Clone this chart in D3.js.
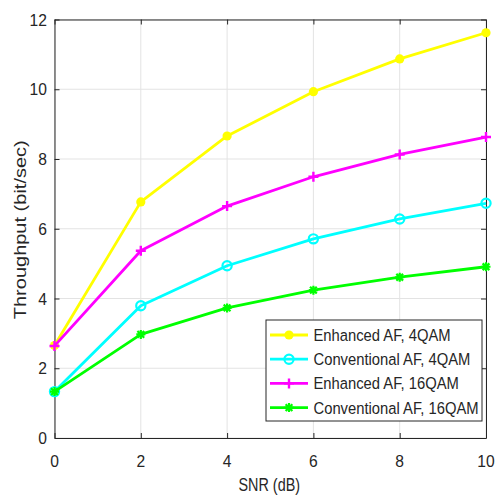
<!DOCTYPE html>
<html>
<head>
<meta charset="utf-8">
<script src="https://cdn.jsdelivr.net/npm/d3@7"></script>
<style>
  html, body { margin: 0; padding: 0; background: #fff; }
  svg { display: block; }
  text { font-family: "Liberation Sans", Arial, Helvetica, sans-serif; fill: #262626; }
</style>
</head>
<body>
<svg id="chart" width="495" height="495"></svg>
<script>
// SNR sweep (dB) and throughput (bit/sec) per scheme
const snr = [0, 2, 4, 6, 8, 10];
const enhanced4QAM     = [2.65, 6.77, 8.66, 9.93, 10.87, 11.62];
const conventional4QAM = [1.33, 3.79, 4.94, 5.71, 6.28, 6.73];
const enhanced16QAM    = [2.64, 5.37, 6.65, 7.49, 8.13, 8.63];
const conventional16QAM = [1.33, 2.97, 3.73, 4.24, 4.61, 4.91];

const seriesNames = ["Enhanced AF, 4QAM", "Conventional AF, 4QAM", "Enhanced AF, 16QAM", "Conventional AF, 16QAM"];
const seriesColors = ["#ffff00", "#00ffff", "#ff00ff", "#00ff00"];
const seriesMarkers = ["dot", "circle", "plus", "star"];
const xTicks = [0, 2, 4, 6, 8, 10];
const yTicks = [0, 2, 4, 6, 8, 10, 12];

const series = [enhanced4QAM, conventional4QAM, enhanced16QAM, conventional16QAM].map((vals, i) => ({
  name: seriesNames[i], color: seriesColors[i], marker: seriesMarkers[i],
  points: vals.map((v, j) => ({ x: snr[j], y: v }))
}));

const svg = d3.select("#chart");
const L = 54.5, R = 486, T = 19.5, B = 438;
const x = d3.scaleLinear().domain([0, 10]).range([L, R]);
const y = d3.scaleLinear().domain([0, 12]).range([B, T]);
const axisColor = "#262626";

// grid
const grid = svg.append("g");
grid.selectAll("line.gx").data(xTicks).join("line")
  .attr("x1", d => x(d)).attr("x2", d => x(d)).attr("y1", T).attr("y2", B)
  .attr("stroke", "#e3e3e3").attr("stroke-width", 1);
grid.selectAll("line.gy").data(yTicks).join("line")
  .attr("x1", L).attr("x2", R).attr("y1", d => y(d)).attr("y2", d => y(d))
  .attr("stroke", "#e3e3e3").attr("stroke-width", 1);

// axes with inward ticks on all four sides
const tickLen = 5;
const xAxisB = d3.axisBottom(x).tickValues(xTicks).tickSizeInner(-tickLen).tickSizeOuter(0).tickFormat("");
const xAxisT = d3.axisTop(x).tickValues(xTicks).tickSizeInner(-tickLen).tickSizeOuter(0).tickFormat("");
const yAxisL = d3.axisLeft(y).tickValues(yTicks).tickSizeInner(-tickLen).tickSizeOuter(0).tickFormat("");
const yAxisR = d3.axisRight(y).tickValues(yTicks).tickSizeInner(-tickLen).tickSizeOuter(0).tickFormat("");
[[xAxisB, `translate(0,${B})`], [xAxisT, `translate(0,${T})`],
 [yAxisL, `translate(${L},0)`], [yAxisR, `translate(${R},0)`]].forEach(([ax, tr]) => {
  const g = svg.append("g").attr("transform", tr).call(ax);
  g.selectAll("path,line").attr("stroke", axisColor).attr("stroke-width", 1);
});

// tick labels (slightly condensed)
const tickFont = 17, tickSX = 0.92;
svg.append("g").selectAll("text").data(xTicks).join("text")
  .attr("transform", d => `translate(${x(d)},466.5) scale(${tickSX},1)`)
  .attr("text-anchor", "middle").attr("font-size", tickFont).text(d => d);
svg.append("g").selectAll("text").data(yTicks).join("text")
  .attr("transform", d => `translate(47,${y(d) + 6}) scale(${tickSX},1)`)
  .attr("text-anchor", "end").attr("font-size", tickFont).text(d => d);

// axis titles
svg.append("text")
  .attr("transform", `translate(${(L + R) / 2 - 1},490.5) scale(0.8,1)`)
  .attr("text-anchor", "middle").attr("font-size", 18).text("SNR (dB)");
svg.append("text")
  .attr("transform", `translate(25.5,${(T + B) / 2 + 1}) scale(0.8,1) rotate(-90)`)
  .attr("text-anchor", "middle").attr("font-size", 20).text("Throughput (bit/sec)");

// marker drawing
function drawMarker(g, kind, color, cx, cy) {
  if (kind === "dot") {
    g.append("circle").attr("cx", cx).attr("cy", cy).attr("r", 4.6).attr("fill", color);
  } else if (kind === "circle") {
    g.append("circle").attr("cx", cx).attr("cy", cy).attr("r", 4.6)
      .attr("fill", "none").attr("stroke", color).attr("stroke-width", 2.2);
  } else if (kind === "plus") {
    const s = 5;
    g.append("path").attr("d", `M${cx - s},${cy}H${cx + s}M${cx},${cy - s}V${cy + s}`)
      .attr("stroke", color).attr("stroke-width", 2.4);
  } else if (kind === "star") {
    const s = 4.5, d = s * 0.75;
    g.append("path")
      .attr("d", `M${cx - s},${cy}H${cx + s}M${cx},${cy - s}V${cy + s}M${cx - d},${cy - d}L${cx + d},${cy + d}M${cx - d},${cy + d}L${cx + d},${cy - d}`)
      .attr("stroke", color).attr("stroke-width", 2.2);
  }
}

// series lines and markers
const line = d3.line().x(d => x(d.x)).y(d => y(d.y));
series.forEach(s => {
  const g = svg.append("g");
  g.append("path").datum(s.points).attr("d", line)
    .attr("fill", "none").attr("stroke", s.color).attr("stroke-width", 2.8)
    .attr("stroke-linejoin", "round");
  s.points.forEach(p => drawMarker(g, s.marker, s.color, x(p.x), y(p.y)));
});

// legend
const lg = svg.append("g");
lg.append("rect").attr("x", 266).attr("y", 320).attr("width", 216).attr("height", 101)
  .attr("fill", "#fff").attr("stroke", axisColor).attr("stroke-width", 1);
series.forEach((s, i) => {
  const ry = 335 + i * 24.2;
  lg.append("line").attr("x1", 270).attr("x2", 308).attr("y1", ry).attr("y2", ry)
    .attr("stroke", s.color).attr("stroke-width", 2.8);
  drawMarker(lg, s.marker, s.color, 289, ry);
  lg.append("text").attr("transform", `translate(313.5,${ry + 6}) scale(0.88,1)`)
    .attr("font-size", 16.8).text(s.name);
});
</script>
</body>
</html>
